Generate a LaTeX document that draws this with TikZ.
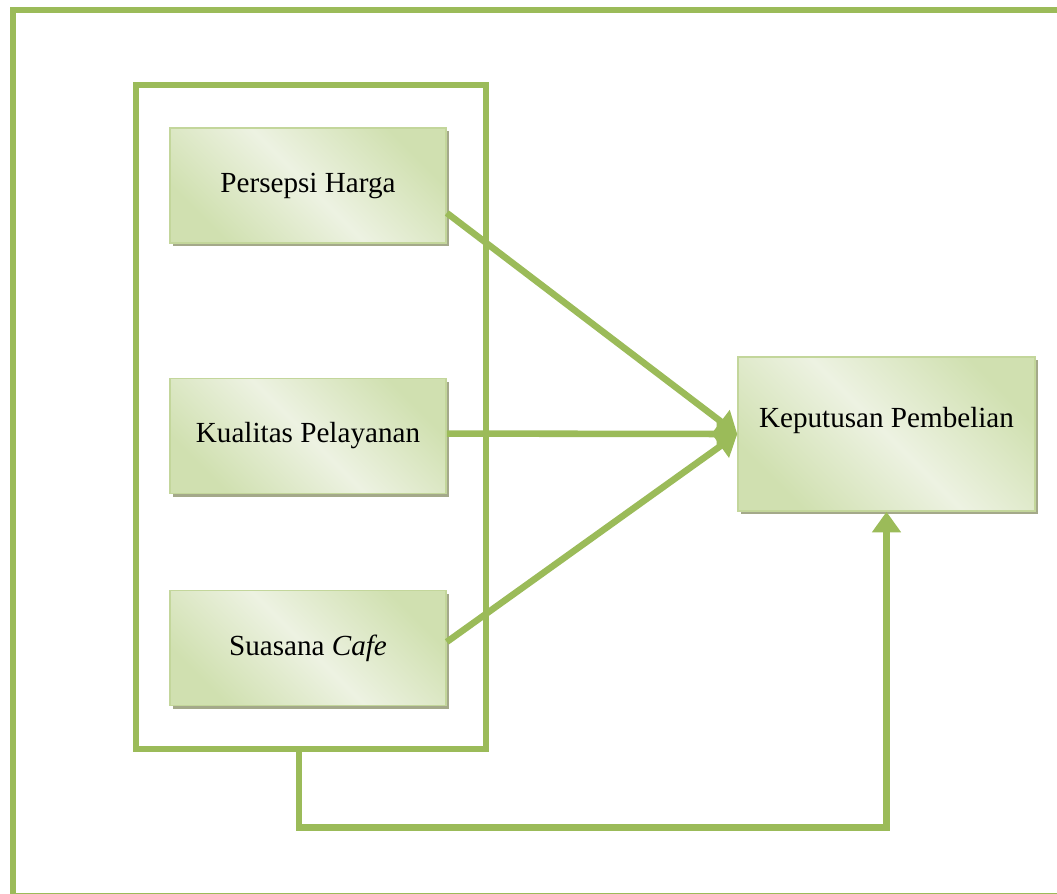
\documentclass[tikz,border=0pt]{standalone}
\usepackage{fontspec}
\setmainfont{Liberation Serif}
\usetikzlibrary{arrows.meta,shadows}
\definecolor{frameGreen}{HTML}{9BBB59}
\definecolor{boxEdge}{HTML}{C3D69B}
\definecolor{boxDark}{HTML}{D0E0B0}
\definecolor{boxLight}{HTML}{EDF2E2}
\definecolor{shadowGrey}{HTML}{A4A98A}
\begin{document}
\begin{tikzpicture}[
    x=0.4118pt, y=-0.4118pt,
    varbox/.style={rectangle, draw=boxEdge, line width=0.6pt, minimum width=113.7pt, minimum height=47.4pt,
        left color=boxDark, right color=boxDark, middle color=boxLight, shading angle=135,
        drop shadow={shadow xshift=1.4pt, shadow yshift=-1.4pt, fill=shadowGrey, opacity=1},
        font=\fontsize{12}{14}\selectfont},
    frame/.style={draw=frameGreen, line width=2.7pt},
    link/.style={frame, -{Triangle[length=8.5pt, width=11.5pt]}}
]
    \useasboundingbox (0,0) rectangle (1057,893);
    \clip (0,0) rectangle (1057,893);
    \draw[frame] (13,10) rectangle (1064,896);

    \node[frame, minimum width=144.1pt, minimum height=273.4pt] (grp) at (311,417) {};

    \node[varbox] (harga) at (308,185.5) {Persepsi Harga};
    \node[varbox] (layanan) at (308,436) {Kualitas Pelayanan};
    \node[varbox] (suasana) at (308,648) {Suasana \textit{Cafe}};
    \node[varbox, minimum width=122.3pt, minimum height=63.4pt, text depth=14pt] (keputusan) at (886.5,434) {Keputusan Pembelian};

    \draw[link] ([yshift=-11.3pt]harga.east) -- (keputusan.west);
    \draw[link] ([yshift=1pt]layanan.east) -- (keputusan.west);
    \draw[link] ([yshift=2.5pt]suasana.east) -- (keputusan.west);
    \draw[link] ([xshift=-4.9pt]grp.south) -- ++(0,75) -| (keputusan.south);
\end{tikzpicture}
\end{document}
